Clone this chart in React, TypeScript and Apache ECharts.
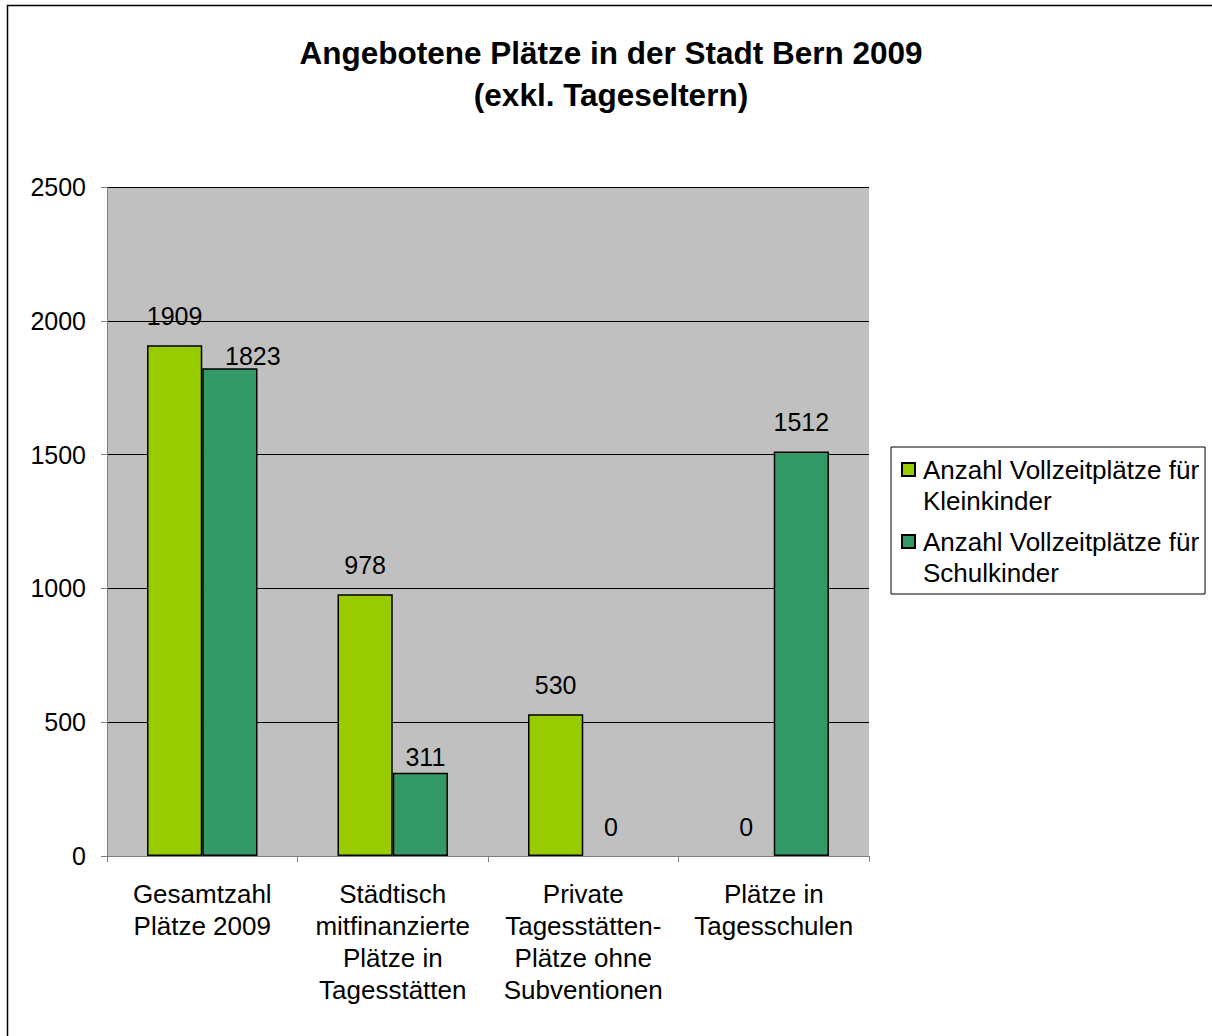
import React, { useEffect, useRef } from "react";
import * as echarts from "echarts";

const titleLines = ["Angebotene Plätze in der Stadt Bern 2009", "(exkl. Tageseltern)"];
const categories = [
  "Gesamtzahl\nPlätze 2009",
  "Städtisch\nmitfinanzierte\nPlätze in\nTagesstätten",
  "Private\nTagesstätten-\nPlätze ohne\nSubventionen",
  "Plätze in\nTagesschulen",
];
const seriesNames = [
  "Anzahl Vollzeitplätze für Kleinkinder",
  "Anzahl Vollzeitplätze für Schulkinder",
];
const kleinkinder = [1909, 978, 530, 0];
const schulkinder = [1823, 311, 0, 1512];
const yTicks = [0, 500, 1000, 1500, 2000, 2500];

const FONT = "'Liberation Sans', Arial, sans-serif";

export default function App() {
  const ref = useRef<HTMLDivElement>(null);
  useEffect(() => {
    if (!ref.current) return;
    const chart = echarts.init(ref.current, undefined, { renderer: "svg" });
    const labelOffsets: Record<number, number[]>[] = [{}, { 0: [23, 17], 1: [5, 14] }];
    const legendIcon = "path://M0,0 L13,0 L13,13 L0,13 Z M16,45 L16.01,45";
    const buildData = (vals: number[], s: number) =>
      vals.map((v, i) => {
        const item: any = { value: v };
        if (v === 0) item.itemStyle = { borderWidth: 0 };
        if (labelOffsets[s][i]) item.label = { offset: labelOffsets[s][i] };
        return item;
      });
    const labelCfg = {
      show: true,
      position: "top",
      distance: 17,
      fontFamily: FONT,
      fontSize: 25,
      color: "#000",
    };
    chart.setOption({
      animation: false,
      backgroundColor: "#ffffff",
      textStyle: { fontFamily: FONT, color: "#000" },
      title: {
        text: titleLines.join("\n"),
        left: 611,
        top: 32,
        padding: 0,
        textAlign: "center",
        textStyle: {
          fontFamily: FONT,
          fontSize: 31.5,
          fontWeight: "bold",
          lineHeight: 42,
          color: "#000",
        },
      },
      graphic: [
        {
          type: "rect",
          shape: { x: 7.5, y: 5.5, width: 1400, height: 1200 },
          style: { fill: "none", stroke: "#000", lineWidth: 1.5 },
          silent: true,
          z: 100,
        },
      ],
      legend: {
        orient: "vertical",
        left: 891,
        top: 447,
        padding: [7.5, 6, 5.5, 10],
        itemGap: 10,
        itemWidth: 16,
        itemHeight: 45,
        icon: legendIcon,
        borderColor: "#000",
        borderWidth: 1,
        backgroundColor: "#fff",
        formatter: (name: string) => name.replace(" für ", " für\n"),
        textStyle: { fontFamily: FONT, fontSize: 26, lineHeight: 31, color: "#000" },
        data: seriesNames,
      },
      grid: {
        left: 107,
        right: 343,
        top: 187,
        bottom: 180,
        show: true,
        backgroundColor: "#C0C0C0",
        borderWidth: 0,
        containLabel: false,
      },
      xAxis: {
        type: "category",
        data: categories,
        axisLine: { show: true, lineStyle: { color: "#808080", width: 1 } },
        axisTick: { show: true, length: 6, lineStyle: { color: "#808080" } },
        axisLabel: {
          interval: 0,
          margin: 22,
          fontFamily: FONT,
          fontSize: 26,
          lineHeight: 32,
          color: "#000",
        },
        splitLine: { show: false },
      },
      yAxis: {
        type: "value",
        min: yTicks[0],
        max: yTicks[yTicks.length - 1],
        interval: 500,
        axisLine: { show: true, lineStyle: { color: "#808080", width: 1 } },
        axisTick: { show: true, length: 6, lineStyle: { color: "#808080" } },
        axisLabel: {
          margin: 21,
          fontFamily: FONT,
          fontSize: 25,
          color: "#000",
          formatter: (v: number) => String(v),
        },
        splitLine: { show: true, lineStyle: { color: "#000", width: 1 } },
      },
      series: [
        {
          name: seriesNames[0],
          type: "bar",
          data: buildData(kleinkinder, 0),
          barGap: "0%",
          barCategoryGap: "42%",
          itemStyle: { color: "#99CC00", borderColor: "#000", borderWidth: 1.5 },
          label: labelCfg,
        },
        {
          name: seriesNames[1],
          type: "bar",
          data: buildData(schulkinder, 1),
          barGap: "0%",
          barCategoryGap: "42%",
          itemStyle: { color: "#339966", borderColor: "#000", borderWidth: 1.5 },
          label: labelCfg,
        },
      ],
    });
    return () => chart.dispose();
  }, []);
  return (
    <div
      ref={ref}
      style={{ position: "fixed", left: 0, top: 0, width: 1212, height: 1036 }}
    />
  );
}
